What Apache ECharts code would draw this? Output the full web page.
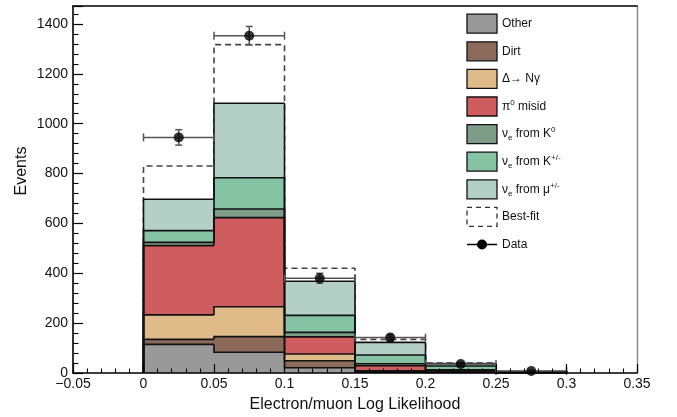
<!DOCTYPE html>
<html>
<head>
<meta charset="utf-8">
<script src="https://cdn.jsdelivr.net/npm/echarts@6/dist/echarts.min.js"></script>
<style>
html,body{margin:0;padding:0;background:#fff;}
#c{width:677px;height:417px;}
</style>
</head>
<body>
<div id="c"></div>
<script>
// ---- data ----
const binEdges = [0, 0.05, 0.1, 0.15, 0.2, 0.25, 0.3];
const other  = [115, 83, 21, 3, 2, 1];
const dirt   = [20, 63, 28, 3, 2, 1];
const delta  = [98, 120, 27, 3, 1, 0.5];
const pi0    = [278, 357, 69, 20, 5, 1];
const nueK0  = [13, 35, 18, 8, 3, 0.5];
const nueKpm = [47, 125, 68, 35, 15, 1];
const nueMu  = [126, 299, 137, 51, 10, 1];
const bestFit = [830, 1317, 420, 135, 40, 5];
const dataVals = [945, 1353, 380, 142, 36, 8];
const dataErr  = [31, 37, 20, 12, 6, 3];
const xTicks = [-0.05, 0, 0.05, 0.1, 0.15, 0.2, 0.25, 0.3, 0.35];
const yTicks = [0, 200, 400, 600, 800, 1000, 1200, 1400];
const legendLabels = [
  '{n|Other}',
  '{n|Dirt}',
  '{n|\u0394\u2192 N\u03b3}',
  '{n|\u03c0}{sup|0}{n| misid}',
  '{n|\u03bd}{sub|e}{n| from K}{sup|0}',
  '{n|\u03bd}{sub|e}{n| from K}{sup|+/-}',
  '{n|\u03bd}{sub|e}{n| from \u03bc}{sup|+/-}',
  '{n|Best-fit}',
  '{n|Data}'
];

const layers = [other, dirt, delta, pi0, nueK0, nueKpm, nueMu];
const colors = ['#999999', '#8b6a5b', '#debb88', '#cf5d5f', '#7e9c87', '#86c3a4', '#b3cfc6'];

const chart = echarts.init(document.getElementById('c'), null, {renderer: 'canvas'});

const FONT = '"Liberation Sans", Arial, Helvetica, sans-serif';
const nb = binEdges.length - 1;

// cumulative stacking
const cum = [];
let prev = new Array(nb).fill(0);
layers.forEach((arr) => {
  const top = arr.map((v, i) => prev[i] + v);
  cum.push({base: prev.slice(), top: top});
  prev = top;
});

const series = [];
layers.forEach((arr, li) => {
  const base = cum[li].base, top = cum[li].top;
  const color = colors[li];
  series.push({
    type: 'custom',
    z: 2,
    data: arr.map((v, i) => [binEdges[i], binEdges[i + 1], base[i], top[i], i === 0 ? 0 : top[i - 1], i === nb - 1 ? 1 : 0]),
    renderItem: function (params, api) {
      const lo = api.value(0), hi = api.value(1), b = api.value(2), t = api.value(3), pt = api.value(4), last = api.value(5);
      const p1 = api.coord([lo, t]);
      const p2 = api.coord([hi, b]);
      const pPrev = api.coord([lo, pt]);
      const pZero = api.coord([hi, 0]);
      const pts = [[p1[0], pPrev[1]], [p1[0], p1[1]], [p2[0], p1[1]]];
      if (last) pts.push([p2[0], pZero[1]]);
      return {
        type: 'group',
        children: [
          {type: 'rect', z2: 1, shape: {x: p1[0], y: p1[1], width: p2[0] - p1[0], height: p2[1] - p1[1]}, style: {fill: color}},
          {type: 'polyline', z2: 10, shape: {points: pts}, style: {stroke: '#111', lineWidth: 1.6, fill: null}}
        ]
      };
    },
    silent: true
  });
});

// best-fit dashed step line
const bfPts = [[binEdges[0], 0]];
bestFit.forEach((v, i) => { bfPts.push([binEdges[i], v]); bfPts.push([binEdges[i + 1], v]); });
bfPts.push([binEdges[nb], 0]);
series.push({
  type: 'line', z: 1, data: bfPts, symbol: 'none', silent: true,
  lineStyle: {color: '#444', width: 1.6, type: [6, 4]}
});

// data error bars
series.push({
  type: 'custom', z: 5, silent: true,
  data: dataVals.map((v, i) => [(binEdges[i] + binEdges[i + 1]) / 2, v, dataErr[i], binEdges[i], binEdges[i + 1]]),
  renderItem: function (params, api) {
    const xc = api.value(0), y = api.value(1), e = api.value(2), lo = api.value(3), hi = api.value(4);
    const c = api.coord([xc, y]);
    const cl = api.coord([lo, y]);
    const ch = api.coord([hi, y]);
    const ct = api.coord([xc, y + e]);
    const cb = api.coord([xc, y - e]);
    const st = {stroke: '#555', lineWidth: 1.5};
    return {
      type: 'group',
      children: [
        {type: 'line', shape: {x1: cl[0], y1: c[1], x2: ch[0], y2: c[1]}, style: st},
        {type: 'line', shape: {x1: cl[0], y1: c[1] - 4, x2: cl[0], y2: c[1] + 4}, style: st},
        {type: 'line', shape: {x1: ch[0], y1: c[1] - 4, x2: ch[0], y2: c[1] + 4}, style: st},
        {type: 'line', shape: {x1: c[0], y1: ct[1], x2: c[0], y2: cb[1]}, style: st},
        {type: 'line', shape: {x1: c[0] - 3.5, y1: ct[1], x2: c[0] + 3.5, y2: ct[1]}, style: st},
        {type: 'line', shape: {x1: c[0] - 3.5, y1: cb[1], x2: c[0] + 3.5, y2: cb[1]}, style: st}
      ]
    };
  }
});
series.push({
  type: 'scatter', z: 6, silent: true,
  data: dataVals.map((v, i) => [(binEdges[i] + binEdges[i + 1]) / 2, v]),
  symbol: 'circle', symbolSize: 10,
  itemStyle: {color: '#000'}
});

// legend (graphic)
const legendX = 467, legendY0 = 23.7, legendDy = 27.6, swW = 30, swH = 19;
const graphics = [];
legendLabels.forEach((lab, i) => {
  const cy = legendY0 + i * legendDy;
  if (i < 7) {
    graphics.push({type: 'rect', shape: {x: legendX, y: cy - swH / 2, width: swW, height: swH},
      style: {fill: colors[i], stroke: '#111', lineWidth: 1.3}});
  } else if (i === 7) {
    graphics.push({type: 'rect', shape: {x: legendX, y: cy - swH / 2, width: swW, height: swH},
      style: {fill: null, stroke: '#333', lineWidth: 1.3, lineDash: [5, 4]}});
  } else {
    graphics.push({type: 'line', shape: {x1: legendX, y1: cy, x2: legendX + swW, y2: cy}, style: {stroke: '#000', lineWidth: 1.5}});
    graphics.push({type: 'circle', shape: {cx: legendX + swW / 2, cy: cy, r: 5}, style: {fill: '#000'}});
  }
  graphics.push({
    type: 'text', x: legendX + swW + 5, y: cy,
    style: {
      text: lab, verticalAlign: 'middle', align: 'left', fill: '#111',
      rich: {
        n: {fontSize: 12, fontFamily: FONT, lineHeight: 16, fill: '#111'},
        sup: {fontSize: 8, fontFamily: FONT, lineHeight: 8, verticalAlign: 'top', fill: '#111'},
        sub: {fontSize: 8, fontFamily: FONT, lineHeight: 8, verticalAlign: 'bottom', fill: '#111'}
      }
    }
  });
});
// axis titles
graphics.push({type: 'text', x: 355, y: 405, style: {text: 'Electron/muon Log Likelihood', align: 'center', verticalAlign: 'middle', fontSize: 16, fontFamily: FONT, fill: '#111'}});
graphics.push({type: 'text', x: 22, y: 171, rotation: Math.PI / 2, style: {text: 'Events', align: 'center', verticalAlign: 'middle', fontSize: 16, fontFamily: FONT, fill: '#111'}});

const fmt = (v) => String(+(+v).toFixed(2)).replace('-', '\u2212');
const yfmt = (v) => (yTicks.indexOf(Math.round(v)) >= 0 && Math.abs(v - Math.round(v)) < 1e-6) ? String(Math.round(v)) : '';

chart.setOption({
  animation: false,
  backgroundColor: '#fff',
  grid: {left: 73, right: 40, top: 6, bottom: 44, containLabel: false},
  xAxis: [{
    type: 'value', min: xTicks[0], max: xTicks[xTicks.length - 1], interval: 0.05, position: 'bottom', z: 10,
    axisLine: {show: true, onZero: false, lineStyle: {color: '#000', width: 1.6}},
    axisTick: {show: true, inside: true, length: 9, lineStyle: {color: '#000', width: 1.2}},
    minorTick: {show: true, splitNumber: 5, length: 4.5, lineStyle: {color: '#000', width: 1.1}},
    axisLabel: {formatter: fmt, fontSize: 14, fontFamily: FONT, color: '#111', margin: 4},
    splitLine: {show: false}
  }, {
    type: 'value', min: xTicks[0], max: xTicks[xTicks.length - 1], position: 'top', z: 10,
    axisLine: {show: true, onZero: false, lineStyle: {color: '#000', width: 1.6}},
    axisTick: {show: false}, axisLabel: {show: false}, splitLine: {show: false}
  }],
  yAxis: [{
    type: 'value', min: 0, max: 1472, interval: 200, position: 'left', z: 10,
    axisLine: {show: true, onZero: false, lineStyle: {color: '#000', width: 1.6}},
    axisTick: {show: true, inside: true, length: 10, lineStyle: {color: '#000', width: 1.2}},
    minorTick: {show: true, splitNumber: 5, length: 5.5, lineStyle: {color: '#000', width: 1.1}},
    axisLabel: {formatter: yfmt, showMaxLabel: false, fontSize: 14, fontFamily: FONT, color: '#111', margin: 5},
    splitLine: {show: false}
  }, {
    type: 'value', min: 0, max: 1472, position: 'right', z: 10,
    axisLine: {show: true, onZero: false, lineStyle: {color: '#888', width: 1.4}},
    axisTick: {show: false}, axisLabel: {show: false}, splitLine: {show: false}
  }],
  series: series,
  graphic: graphics
});
</script>
</body>
</html>
